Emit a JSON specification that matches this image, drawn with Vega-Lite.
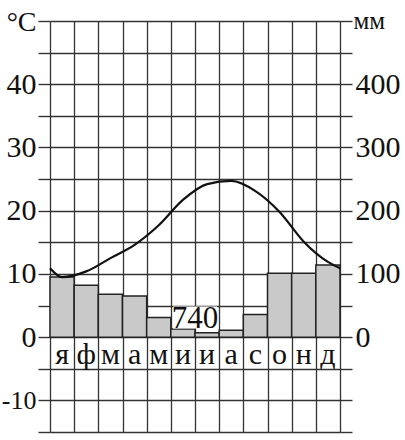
{
  "$schema": "https://vega.github.io/schema/vega-lite/v6.json",
  "width": 290,
  "height": 411,
  "autosize": "none",
  "padding": {"left": 50, "top": 21, "right": 65, "bottom": 8},
  "background": "white",
  "config": {"font": "Liberation Serif", "view": {"stroke": null}},
  "datasets": {
    "months": [
      {"m": 1, "label": "я", "precip": 95},
      {"m": 2, "label": "ф", "precip": 82},
      {"m": 3, "label": "м", "precip": 68},
      {"m": 4, "label": "а", "precip": 65},
      {"m": 5, "label": "м", "precip": 31},
      {"m": 6, "label": "и", "precip": 13},
      {"m": 7, "label": "и", "precip": 7},
      {"m": 8, "label": "а", "precip": 11},
      {"m": 9, "label": "с", "precip": 36},
      {"m": 10, "label": "о", "precip": 101},
      {"m": 11, "label": "н", "precip": 101},
      {"m": 12, "label": "д", "precip": 114}
    ],
    "temp": [
      {"pos": 0, "t": 10.9},
      {"pos": 0.5, "t": 9.5},
      {"pos": 1.5, "t": 10.4},
      {"pos": 2.5, "t": 12.5},
      {"pos": 3.5, "t": 14.6},
      {"pos": 4.5, "t": 17.7},
      {"pos": 5.5, "t": 21.7},
      {"pos": 6.5, "t": 24.2},
      {"pos": 7.5, "t": 24.7},
      {"pos": 8.5, "t": 23.1},
      {"pos": 9.5, "t": 19.8},
      {"pos": 10.5, "t": 15.1},
      {"pos": 11.5, "t": 11.9},
      {"pos": 12, "t": 10.9}
    ],
    "total": [{"pos": 6, "t": 1.4, "text": "740"}]
  },
  "layer": [
    {
      "data": {"name": "months"},
      "layer": [
        {
          "mark": {"type": "bar", "fill": "#c9c9c9", "stroke": "#222", "strokeWidth": 1.5},
          "encoding": {
            "x": {"field": "m", "type": "ordinal", "scale": {"paddingInner": 0, "paddingOuter": 0}, "axis": null},
            "y": {
              "field": "precip", "type": "quantitative",
              "scale": {"domain": [-150, 500], "nice": false},
              "axis": {
                "orient": "right",
                "values": [-150, -100, -50, 0, 50, 100, 150, 200, 250, 300, 350, 400, 450, 500],
                "tickCount": 40,
                "tickSize": 12, "tickColor": "#333", "tickWidth": 1.4,
                "domain": false, "grid": false,
                "labelExpr": "datum.value >= 0 && datum.value <= 400 && datum.value % 100 == 0 ? datum.label : ''",
                "labelFontSize": 30, "labelPadding": 3, "labelColor": "#111",
                "labelOverlap": false, "labelBound": false, "labelFlush": false,
                "title": "мм", "titleAngle": 0, "titleX": 13, "titleY": 7,
                "titleAlign": "left", "titleBaseline": "alphabetic",
                "titleFontSize": 25, "titleFontWeight": "normal", "titleColor": "#111"
              }
            }
          }
        },
        {
          "mark": {"type": "text", "fontSize": 30, "baseline": "alphabetic", "align": "center", "color": "#111"},
          "encoding": {
            "x": {"field": "m", "type": "ordinal"},
            "y": {"datum": -42, "type": "quantitative"},
            "text": {"field": "label"}
          }
        }
      ]
    },
    {
      "layer": [
        {
          "data": {"name": "temp"},
          "mark": {"type": "line", "color": "#111", "strokeWidth": 2.2, "interpolate": "monotone"},
          "encoding": {
            "x": {
              "field": "pos", "type": "quantitative",
              "scale": {"domain": [0, 12], "nice": false},
              "axis": {
                "values": [0, 1, 2, 3, 4, 5, 6, 7, 8, 9, 10, 11, 12],
                "tickCount": 40,
                "grid": true, "gridColor": "#333", "gridWidth": 1.3, "gridOpacity": 1,
                "labels": false, "ticks": false, "domain": false, "title": null
              }
            },
            "y": {
              "field": "t", "type": "quantitative",
              "scale": {"domain": [-15, 50], "nice": false, "zero": false},
              "axis": {
                "values": [-15, -10, -5, 0, 5, 10, 15, 20, 25, 30, 35, 40, 45, 50],
                "tickCount": 40,
                "grid": true, "gridColor": "#333", "gridWidth": 1.4, "gridOpacity": 1,
                "tickSize": 12, "tickColor": "#333", "tickWidth": 1.4,
                "domain": false,
                "labelExpr": "datum.value >= -10 && datum.value <= 40 && datum.value % 10 == 0 ? (datum.value < 0 ? '-' + abs(datum.value) : datum.label) : ''",
                "labelFontSize": {"condition": {"test": "datum.value < 0", "value": 26}, "value": 30},
                "labelPadding": 2, "labelColor": "#111",
                "labelOverlap": false, "labelBound": false, "labelFlush": false,
                "title": "°C", "titleAngle": 0, "titleX": -14, "titleY": 9,
                "titleAlign": "right", "titleBaseline": "alphabetic",
                "titleFontSize": 28, "titleFontWeight": "normal", "titleColor": "#111"
              }
            }
          }
        },
        {
          "data": {"name": "total"},
          "mark": {"type": "point", "shape": "M-1,-0.5H1V0.5H-1Z", "size": 1936, "filled": true, "fill": "white", "opacity": 1, "strokeWidth": 0},
          "encoding": {
            "x": {"field": "pos", "type": "quantitative"},
            "y": {"datum": 3.1, "type": "quantitative"}
          }
        },
        {
          "data": {"name": "total"},
          "mark": {"type": "text", "fontSize": 31, "baseline": "alphabetic", "align": "center", "color": "#111"},
          "encoding": {
            "x": {"field": "pos", "type": "quantitative"},
            "y": {"field": "t", "type": "quantitative"},
            "text": {"field": "text"}
          }
        }
      ]
    }
  ],
  "resolve": {"scale": {"x": "independent", "y": "independent"}}
}
